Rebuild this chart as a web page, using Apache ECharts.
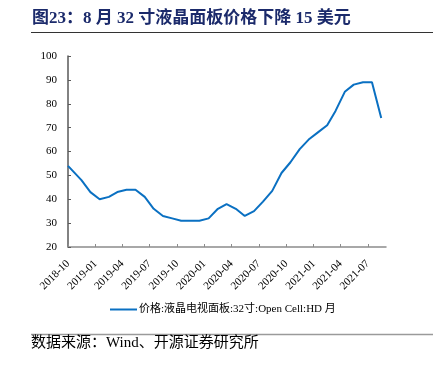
<!DOCTYPE html>
<html>
<head>
<meta charset="utf-8">
<script src="https://cdn.jsdelivr.net/npm/echarts@6/dist/echarts.min.js"></script>
<style>
html,body{margin:0;padding:0;background:#fff;}
#chart{width:433px;height:370px;}
</style>
</head>
<body>
<div id="chart"></div>
<script>
// ---- data ----
var seriesName = '价格:液晶电视面板:32寸:Open Cell:HD 月';
var dates = ['2018-10-01','2018-11-15','2018-12-15','2019-01-15','2019-02-15','2019-03-15','2019-04-15','2019-05-15','2019-06-15','2019-07-15','2019-08-15','2019-09-15','2019-10-15','2019-11-15','2019-12-15','2020-01-15','2020-02-15','2020-03-15','2020-04-15','2020-05-15','2020-06-15','2020-07-15','2020-08-15','2020-09-15','2020-10-15','2020-11-15','2020-12-15','2021-01-15','2021-02-15','2021-03-15','2021-04-15','2021-05-15','2021-06-15','2021-07-15','2021-08-15'];
var prices = [54,48,43,40,41,43,44,44,41,36,33,32,31,31,31,32,36,38,36,33,35,39,43.5,51,55.5,61,65,68,71,77,85,88,89,89,74];
var yTicks = {min:20, max:100, interval:10};
var xRange = {min:'2018-10-01', max:'2021-08-31'};

var titleText = '图23：8 月 32 寸液晶面板价格下降 15 美元';
var sourceText = '数据来源：Wind、开源证券研究所';

var serif = "'Liberation Serif','Times New Roman','Noto Sans CJK SC',serif";
var DAY = 86400000;

var chart = echarts.init(document.getElementById('chart'), null, {renderer:'canvas'});
var option = {
  animation:false,
  backgroundColor:'#fff',
  grid:{left:68, top:56, right:47, bottom:123, containLabel:false},
  legend:{
    left:105, top:299,
    icon:'rect',
    itemWidth:27, itemHeight:2, itemGap:10,
    textStyle:{fontFamily:serif, fontSize:11, color:'#000', padding:[0,0,0,-3]},
    data:[seriesName]
  },
  xAxis:{
    type:'time',
    min:xRange.min, max:xRange.max,
    minInterval:95*DAY, maxInterval:95*DAY,
    axisLine:{show:true, lineStyle:{color:'#8c8c8c', width:1.5}},
    axisTick:{show:true, inside:true, length:3, lineStyle:{color:'#8c8c8c'}},
    splitLine:{show:false},
    axisLabel:{
      rotate:45, margin:15, fontFamily:serif, fontSize:11, color:'#000',
      formatter:'{yyyy}-{MM}', hideOverlap:false
    }
  },
  yAxis:{
    type:'value',
    min:yTicks.min, max:yTicks.max, interval:yTicks.interval,
    axisLine:{show:true, lineStyle:{color:'#595959', width:1.5}},
    axisTick:{show:true, inside:true, length:3, lineStyle:{color:'#595959'}},
    splitLine:{show:false},
    axisLabel:{margin:11, fontFamily:serif, fontSize:11, color:'#000'}
  },
  series:[{
    name:seriesName,
    type:'line',
    symbol:'none',
    showSymbol:false,
    lineStyle:{color:'#0a70c2', width:2},
    itemStyle:{color:'#0a70c2'},
    data:dates.map(function(d,i){return [d, prices[i]];})
  }],
  graphic:[
    {type:'text', left:32, top:10, style:{text:titleText, fill:'#1b2a6b', font:"bold 17px 'Liberation Serif','Noto Sans CJK SC',serif"}},
    {type:'line', shape:{x1:31, y1:32.5, x2:433, y2:32.5}, style:{stroke:'#333', lineWidth:1}},
    {type:'line', shape:{x1:31, y1:334.5, x2:433, y2:334.5}, style:{stroke:'#9a9a9a', lineWidth:1.5}},
    {type:'text', left:31, top:336, style:{text:sourceText, fill:'#000', font:"15px 'Liberation Serif','Noto Sans CJK SC',serif"}}
  ]
};
chart.setOption(option);
</script>
</body>
</html>
